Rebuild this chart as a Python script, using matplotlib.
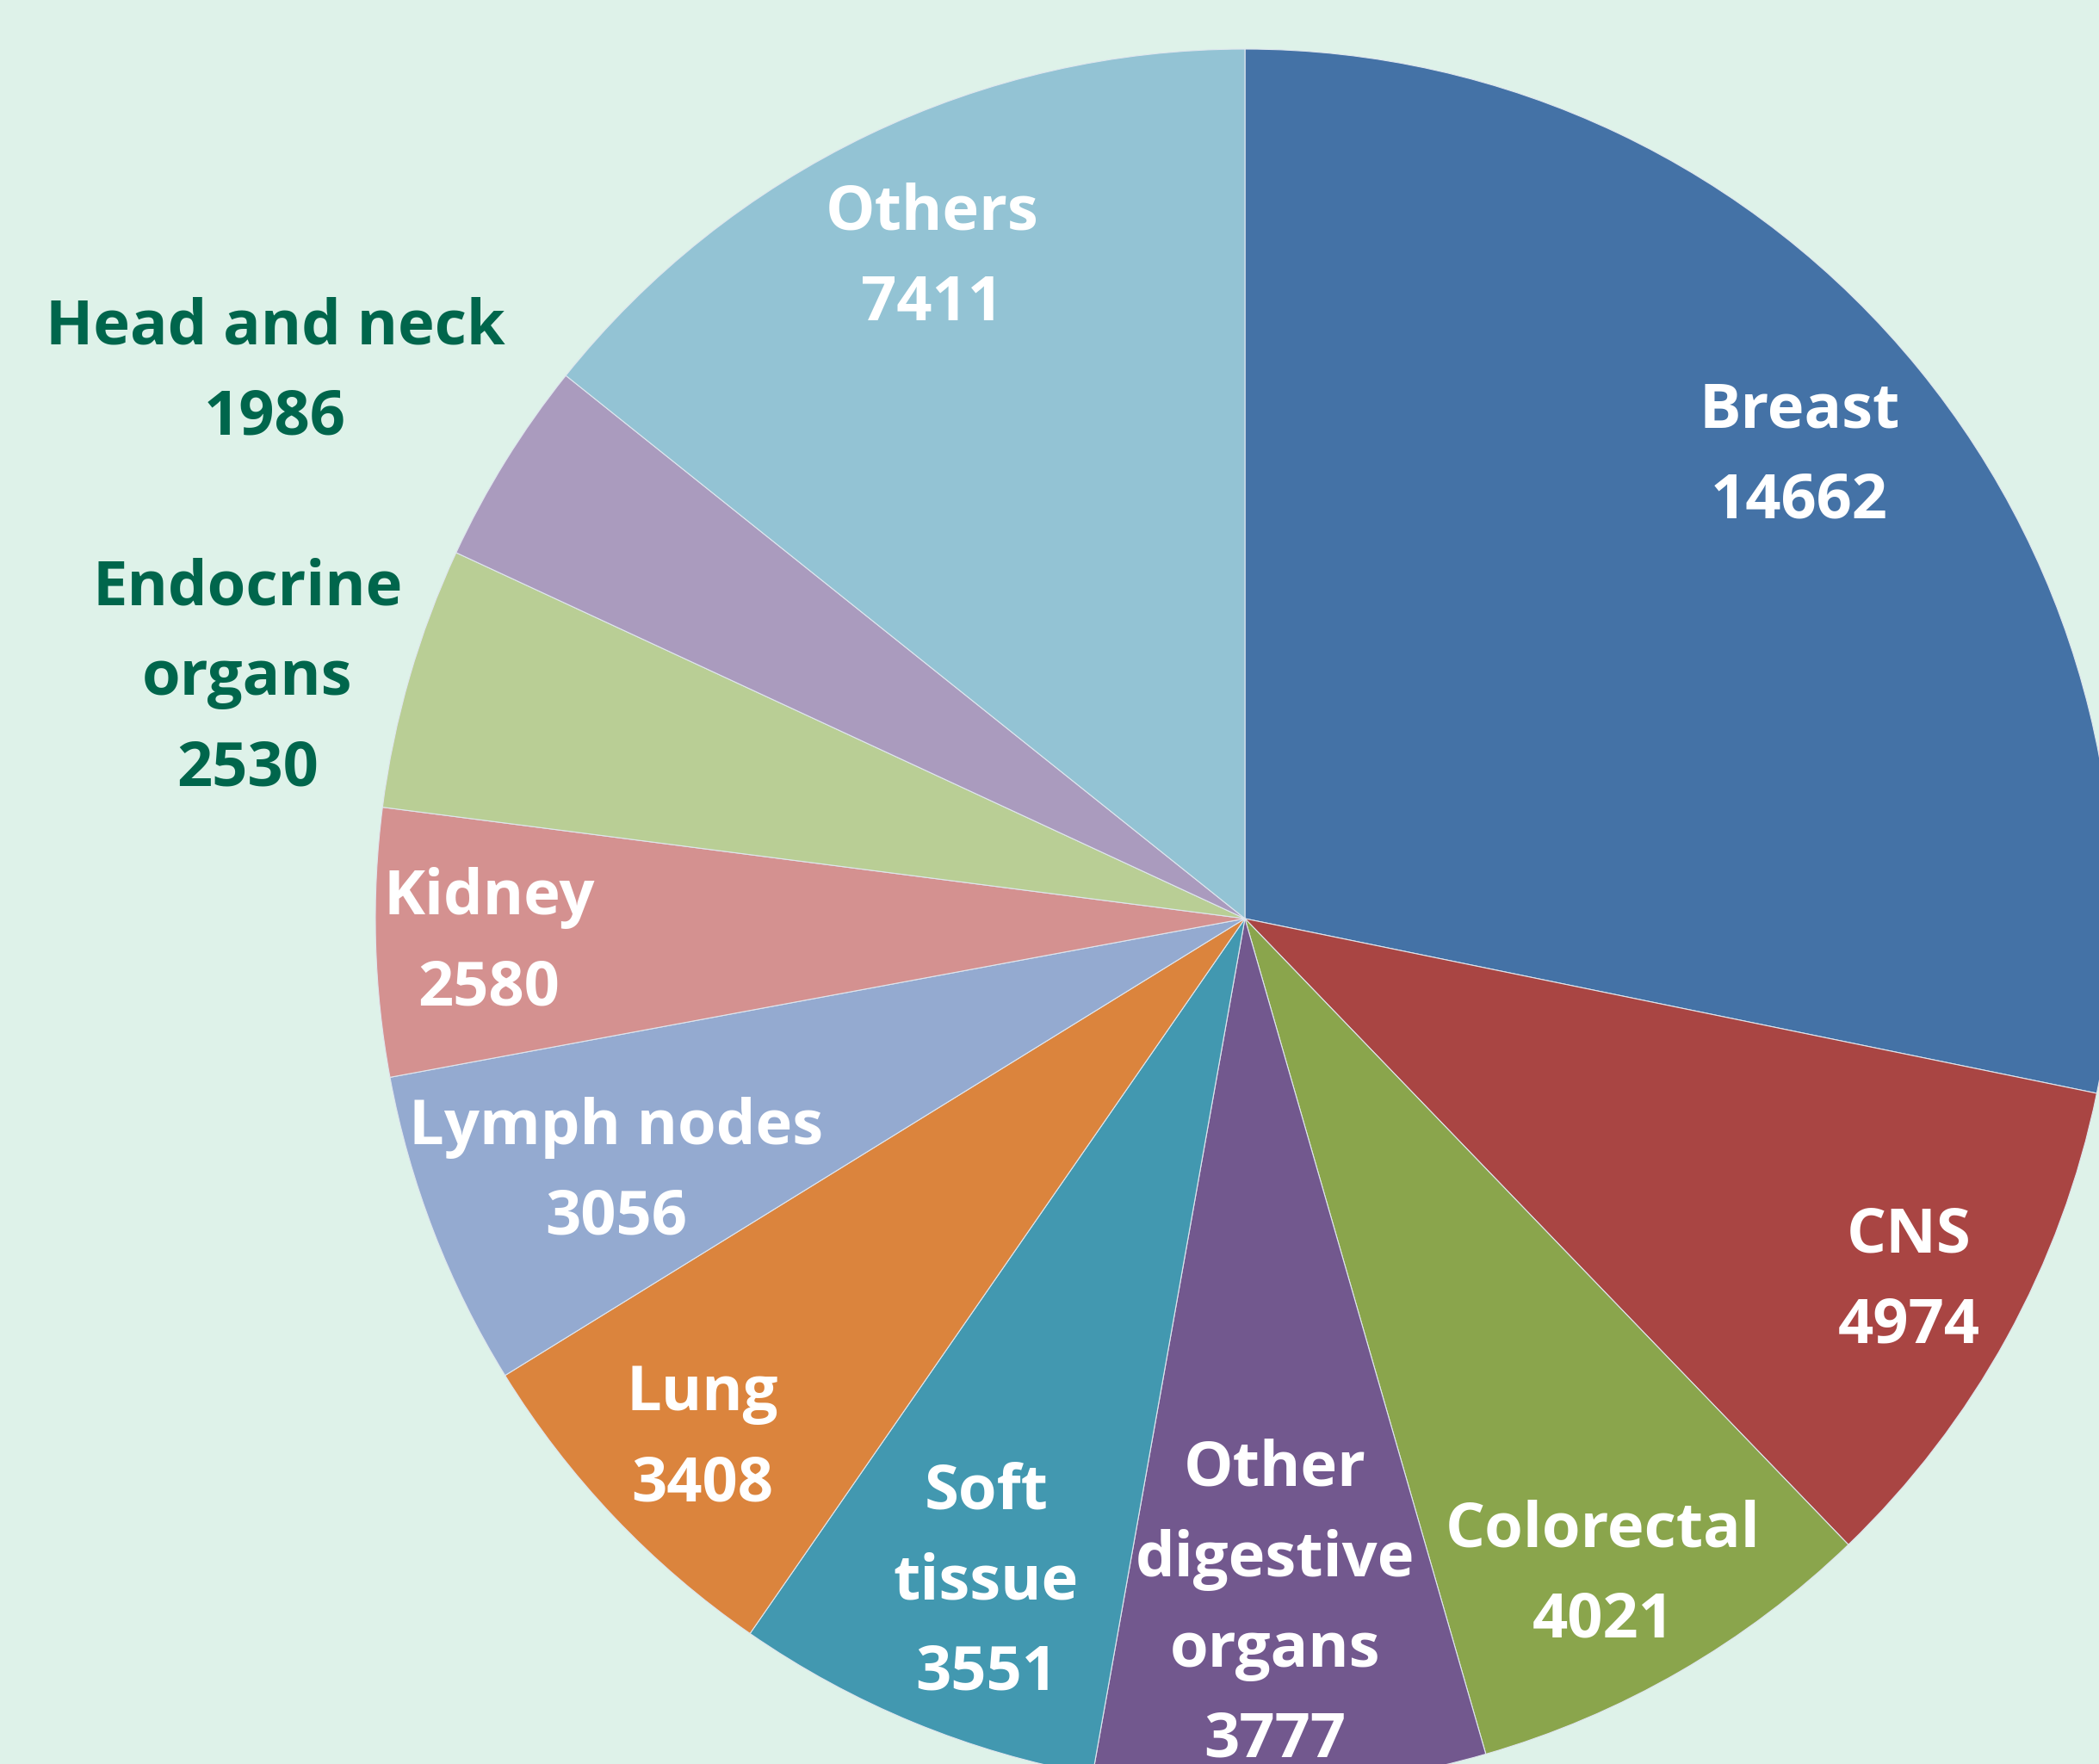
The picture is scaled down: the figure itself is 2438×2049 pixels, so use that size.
import numpy as np
import matplotlib.pyplot as plt

# cancer sites, clockwise from 12 o'clock
sites = ['Breast', 'CNS', 'Colorectal', 'Other\ndigestive\norgans', 'Soft\ntissue',
         'Lung', 'Lymph nodes', 'Kidney', 'Endocrine\norgans', 'Head and neck', 'Others']
counts = [14662, 4974, 4021, 3777, 3551, 3408, 3056, 2580, 2530, 1986, 7411]
colors = ['#4472A6', '#A94543', '#8AA54C', '#72588E', '#4298B0', '#DB843D',
          '#94AAD0', '#D49190', '#B9CE95', '#AA9BBE', '#93C3D4']
# label placement: fraction of radius, and small angle nudge (deg) from wedge middle
label_r = [0.83, 0.87, 0.86, 0.79, 0.82, 0.865, 0.78, 0.87, 1.18, 1.28, 0.84]
label_dang = [0.6, 0.2, -1.4, -0.5, 1.1, 0.3, 0.9, 0.3, 2.6, 2.4, -0.3]

bg = '#DEF2E9'
W, H = 2438, 2049
cx, cy, R = 1446, H - 1067, 1010

fig = plt.figure(figsize=(W / 100, H / 100), dpi=100, facecolor=bg)
ax = fig.add_axes([0, 0, 1, 1])
ax.set_facecolor(bg)

wedges, _ = ax.pie(counts, colors=colors, startangle=90, counterclock=False,
                   center=(cx, cy), radius=R,
                   wedgeprops=dict(edgecolor='#dfe6ee', linewidth=0.8))

for w, name, n, rf, da in zip(wedges, sites, counts, label_r, label_dang):
    mid = np.deg2rad((w.theta1 + w.theta2) / 2 + da)
    x = cx + rf * R * np.cos(mid)
    y = cy + rf * R * np.sin(mid)
    col = '#00664C' if rf > 1 else 'white'
    ax.text(x, y, f'{name}\n{n}', ha='center', va='center', color=col,
            fontsize=52, fontweight='bold', family='Open Sans', linespacing=1.6)

ax.set_xlim(0, W)
ax.set_ylim(0, H)
ax.set_aspect('equal')
ax.axis('off')

fig.savefig('out.png', dpi=100, facecolor=bg)
